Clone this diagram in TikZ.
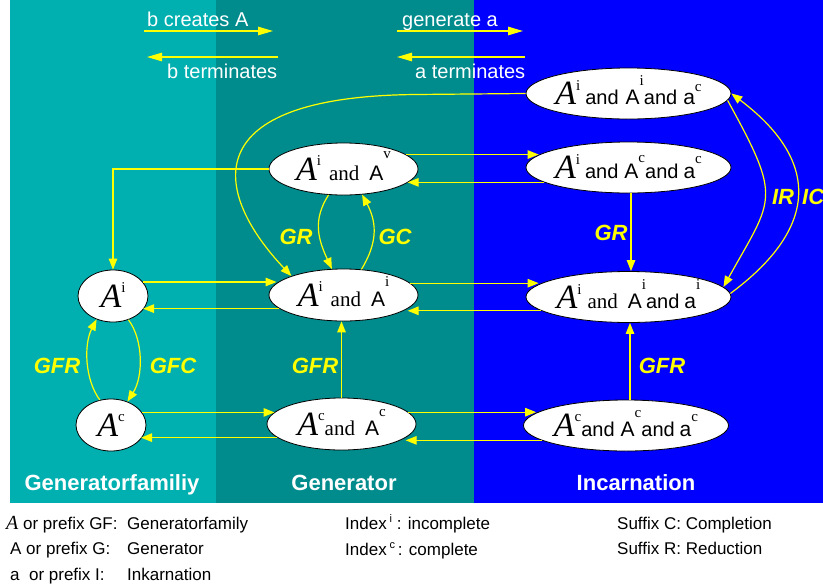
\documentclass[tikz,border=0pt]{standalone}
\usepackage{fontspec}
\setmainfont{Liberation Sans}
\newfontfamily\tms{Liberation Serif}
\usetikzlibrary{shapes.geometric,arrows.meta}
\definecolor{tealA}{RGB}{0,176,176}
\definecolor{tealB}{RGB}{0,140,140}
\definecolor{pureblue}{RGB}{0,0,255}
\definecolor{yel}{RGB}{255,255,0}
\newcommand\myA{{\tms\itshape\fontsize{34}{34}\selectfont A}}
\newcommand\mysup[2][15pt]{\raisebox{#1}{\tms\fontsize{15}{15}\selectfont #2}}
\newcommand\sand{{\fontsize{20}{20}\selectfont and}}
\newcommand\tand{{\tms\fontsize{21}{21}\selectfont and}}
\newcommand\mySA{{\fontsize{21}{21}\selectfont A}}
\newcommand\mysa{{\fontsize{21}{21}\selectfont a}}
\newcommand\etext[1]{\raisebox{-11pt}[0pt][0pt]{\makebox[0pt]{#1}}}
\begin{document}
\begin{tikzpicture}[x=1pt,y=-1pt,
  ell/.style={ellipse,draw=black,fill=white,line width=0.8pt,inner sep=0pt},
  elS/.style={ell,minimum width=70pt,minimum height=52pt},
  elM/.style={ell,minimum width=149pt,minimum height=52pt},
  elL/.style={ell,minimum width=205pt,minimum height=51pt},
  arr/.style={draw=yel,line width=1.2pt,-{Triangle[length=11pt,width=8.5pt]}},
  hdr/.style={draw=yel,line width=1.2pt,-{Triangle[length=15pt,width=8.5pt]}},
  lab/.style={text=yel,font=\fontsize{22}{22}\selectfont\bfseries\itshape,inner sep=0pt},
  col/.style={text=white,font=\fontsize{22}{22}\selectfont\bfseries,inner sep=0pt,anchor=base},
  htxt/.style={text=white,font=\fontsize{20}{20}\selectfont,anchor=base west,inner sep=0pt},
  foot/.style={text=black,font=\fontsize{17}{17}\selectfont,anchor=base west,inner sep=0pt}]
\useasboundingbox (0,0) rectangle (823,587);
\fill[white] (0,0) rectangle (823,587);
\fill[tealA] (10,0) rectangle (216,503);
\fill[tealB] (216,0) rectangle (474,503);
\fill[pureblue] (474,0) rectangle (823,503);

% header
\node[htxt] (t1) at (147,26) {b creates A};
\node[htxt] (t2) at (167,78) {b terminates};
\node[htxt] (t3) at (402,26) {generate a};
\node[htxt] (t4) at (415,78) {a terminates};
\coordinate (h1s) at (144,31); \coordinate (h1e) at (273,31);
\coordinate (h2s) at (278,57); \coordinate (h2e) at (147,57);
\coordinate (h3s) at (397,31); \coordinate (h3e) at (523,31);
\coordinate (h4s) at (525,57); \coordinate (h4e) at (397,57);
\draw[hdr] (h1s) -- (h1e);
\draw[hdr] (h2s) -- (h2e);
\draw[hdr] (h3s) -- (h3e);
\draw[hdr] (h4s) -- (h4e);

% ellipses
\node[elL] (n1) at (628.5,93.5) {\etext{\myA\mysup[14pt]{i}\hspace{5pt}\sand\hspace{7pt}\mySA\mysup[19pt]{i}\sand\hspace{6pt}\mysa\mysup[13pt]{c}}};
\node[elM] (n2) at (343.5,169) {\etext{\myA\mysup[15pt]{i}\hspace{8pt}\tand\hspace{10pt}\mySA\mysup[22pt]{v}}};
\node[elL] (n3) at (628.5,167.5) {\etext{\myA\mysup[14pt]{i}\hspace{5pt}\sand\hspace{6pt}\mySA\mysup[16pt]{c}\sand\hspace{5pt}\mysa\mysup[15pt]{c}}};
\node[elS] (n4) at (113,296) {\etext{\myA\mysup[15pt]{i}}};
\node[elM] (n5) at (343.5,295) {\etext{\myA\mysup[15pt]{i}\hspace{8pt}\tand\hspace{10pt}\mySA\mysup[20pt]{i}}};
\node[elL] (n6) at (628.5,297) {\etext{\myA\mysup[14pt]{i}\hspace{6pt}\tand\hspace{10pt}\mySA\mysup[19pt]{i}\sand\hspace{5pt}\mysa\mysup[19pt]{i}}};
\node[elS] (n7) at (111,425) {\etext{\myA\mysup[15pt]{c}}};
\node[elM] (n8) at (341.5,424) {\etext{\myA\mysup[15pt]{c}\tand\hspace{10pt}\mySA\mysup[19pt]{c}}};
\node[elL] (n9) at (626,425.5) {\etext{\myA\mysup[15pt]{c}\sand\hspace{6pt}\mySA\mysup[19pt]{c}\sand\hspace{5pt}\mysa\mysup[15pt]{c}}};

% horizontal connectors
\draw[arr] (n2.13) -- (n2.13 -| n3.172);
\draw[arr] (n3.-170) -- (n3.-170 -| n2.-12);
\draw[arr] (n4.25) -- (n4.25 -| n5.170);
\draw[arr] (n5.-168) -- (n5.-168 -| n4.-25);
\draw[arr] (n5.10) -- (n5.10 -| n6.172);
\draw[arr] (n6.-171) -- (n6.-171 -| n5.-12);
\draw[arr] (n7.22) -- (n7.22 -| n8.170);
\draw[arr] (n8.-168) -- (n8.-168 -| n7.-25);
\draw[arr] (n8.10) -- (n8.10 -| n9.172);
\draw[arr] (n9.-170) -- (n9.-170 -| n8.-12);

% vertical connectors
\draw[arr] ([xshift=2.5pt]n3.south) -- ([xshift=2.5pt]n6.north);
\draw[arr] (n8.north) -- (n8.north |- n5.south);
\draw[arr] ([xshift=4pt]n9.north) -- ([xshift=4pt]n9.north |- n6.south);
\draw[arr] (n2.west) -| (n4.north);

% curved connectors
\draw[arr] (n1.west) -- ++(-110,1) .. controls +(-220,2) and +(-80,-85) .. (n5.160);
\draw[arr] (n2.-120) .. controls +(-16,25) and +(-14,-30) .. (n5.114);
\draw[arr] (n5.55) .. controls +(15,-25) and +(16,30) .. (n2.-54);
\draw[arr] (n7.114) .. controls +(-15,-20) and +(-13,25) .. (n4.-125);
\draw[arr] (n4.-57) .. controls +(15,20) and +(16,-25) .. (n7.55);
\draw[arr] (n1.-4) .. controls +(55,100) and +(50,-90) .. (n6.6);
\draw[arr] (n6.2) .. controls +(93,-69) and +(85,64) .. (n1.east);

% labels
\node[lab] (lGR1) at (296,237) {GR};
\node[lab] (lGC) at (395,237) {GC};
\node[lab] (lGR2) at (611,233) {GR};
\node[lab] (lIR) at (783,197) {IR};
\node[lab,anchor=west] (lIC) at (802,197) {IC};
\node[lab] (lGFR1) at (57,366) {GFR};
\node[lab] (lGFC) at (173,366) {GFC};
\node[lab] (lGFR2) at (315,366) {GFR};
\node[lab] (lGFR3) at (662,366) {GFR};

% column titles
\node[col] (c1) at (112,490) {Generatorfamiliy};
\node[col] (c2) at (344,490) {Generator};
\node[col] (c3) at (636,490) {Incarnation};

% footer
\node[foot] (f11) at (6,529) {{\tms\itshape\fontsize{20}{20}\selectfont A} or prefix GF:};
\node[foot] (f12) at (127,529) {Generatorfamily};
\node[foot] (f21) at (10,554) {A or prefix G:};
\node[foot] (f22) at (127,554) {Generator};
\node[foot] (f31) at (10,580) {a\ \ or prefix I:};
\node[foot] (f32) at (127,580) {Inkarnation};
\node[foot] (f41) at (345,529) {Index\,\raisebox{7pt}{\fontsize{11}{11}\selectfont i}\ : incomplete};
\node[foot] (f42) at (345,555) {Index\,\raisebox{7pt}{\fontsize{11}{11}\selectfont c}\,: complete};
\node[foot] (f51) at (617,529) {Suffix C: Completion};
\node[foot] (f52) at (617,554) {Suffix R: Reduction};
\end{tikzpicture}
\end{document}
